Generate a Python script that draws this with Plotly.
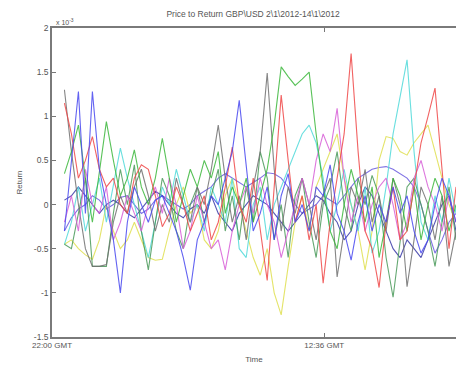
import numpy as np
import plotly.graph_objects as go

# time axis: minutes after 22:00 GMT
t_start = 40.0
t_step = 22.5
tick_vals = [0, 876]
tick_text = ["22:00 GMT", "12:36 GMT"]
y_tick_vals = [-1.5, -1, -0.5, 0, 0.5, 1, 1.5, 2]
y_tick_text = ["-1.5", "-1", "-0.5", "0", "0.5", "1", "1.5", "2"]

# returns in units of 1e-3
s_blue = [-0.30, 0.50, 1.28, -0.10, 1.28, 0.40, 0.00, -0.40, -1.00, -0.20,
          0.20, 0.00, -0.20, 0.05, 0.10, -0.10, -0.30, -0.60, -0.97, -0.40,
          -0.20, 0.10, 0.00, 0.30, 0.60, 1.18, 0.40, -0.30, -0.10, 0.20,
          -0.40, 0.10, 0.35, -0.20, 0.00, -0.30, 0.20, 0.10, 0.45, -0.10,
          -0.30, -0.63, -0.20, 0.10, -0.30, 0.00, -0.20, 0.20, -0.10, 0.10,
          -0.30, -0.55, -0.40, 0.00, 0.30, 0.10, -0.20]
s_red = [1.15, 0.80, 0.30, 0.50, 0.77, 0.40, 0.20, 0.30, 0.00, -0.10,
         0.30, 0.45, 0.40, 0.10, -0.25, -0.10, 0.20, 0.00, -0.30, -0.10,
         0.10, -0.40, -0.20, 0.20, 0.65, 0.00, -0.20, 0.30, -0.30, -0.86,
         0.20, 1.24, 0.50, -0.20, 0.10, -0.40, 0.00, -0.89, -0.20, 0.30,
         0.80, 1.71, 0.60, -0.30, -0.50, -0.94, -0.20, 0.20, -0.40, -0.30,
         0.20, 0.70, 1.00, 1.32, 0.40, -0.50, 0.20]
s_green = [0.35, 0.60, 0.90, 0.30, -0.20, 0.40, 0.94, 0.50, 0.10, 0.30,
           0.62, 0.20, 0.00, 0.30, 0.75, 0.30, -0.20, 0.10, 0.40, 0.20,
           0.50, 0.30, 0.60, -0.10, 0.20, 0.00, 0.30, -0.20, 0.10, 0.40,
           0.90, 1.56, 1.45, 1.35, 1.42, 1.50, 0.80, 0.20, -0.30, -0.50,
           0.00, 0.40, 0.10, -0.20, 0.20, -0.60, -0.20, 0.30, 0.10, -0.30,
           0.20, -0.40, 0.00, 0.30, 0.10, -0.30, 0.00]
s_dgreen = [-0.45, -0.50, -0.10, 0.30, -0.70, -0.70, -0.70, -0.10, 0.40, 0.00,
            0.45, -0.30, -0.74, -0.20, 0.30, 0.10, -0.30, -0.50, 0.00, 0.20,
            -0.20, 0.10, 0.40, -0.30, 0.10, -0.40, 0.20, -0.20, 0.60, 0.30,
            -0.40, 0.00, -0.60, 0.10, 0.30, -0.20, -0.60, 0.00, 0.20, 0.60,
            0.00, -0.30, 0.30, 0.00, 0.33, 0.10, -0.60, -1.05, -0.40, 0.20,
            0.30, 0.00, -0.30, -0.70, -0.20, 0.20, -0.40]
s_cyan = [-0.45, -0.20, 0.20, -0.30, 0.00, 0.30, -0.20, 0.20, 0.64, 0.30,
          0.00, -0.30, -0.60, -0.20, 0.20, 0.00, 0.40, 0.10, -0.20, 0.00,
          -0.30, 0.20, 0.00, -0.20, 0.30, -0.50, -0.60, 0.00, 0.20, -0.40,
          0.00, 0.20, 0.40, 0.60, 0.80, 0.90, 0.70, 0.30, -0.30, 0.00,
          0.40, 0.00, -0.30, 0.20, -0.55, -0.30, 0.20, 0.80, 1.20, 1.64,
          0.60, -0.20, -0.40, 0.10, -0.20, 0.30, -0.10]
s_magenta = [-0.20, 0.10, -0.30, 0.40, 0.00, -0.10, 0.20, -0.40, -0.20, 0.10,
             -0.10, -0.30, 0.00, 0.20, -0.10, 0.30, 0.00, -0.50, -0.30, 0.10,
             -0.20, -0.50, -0.40, -0.74, -0.30, 0.00, 0.20, -0.10, 0.30, 0.00,
             -0.20, -0.60, -0.30, 0.00, 0.30, 0.00, 0.50, 0.80, 0.60, 1.09,
             0.30, -0.20, 0.10, -0.30, 0.00, 0.20, 0.30, 0.00, -0.40, -0.20,
             0.30, 0.50, 0.20, 0.00, -0.30, 0.10, -0.20]
s_yellow = [-0.45, -0.40, -0.50, -0.57, -0.62, -0.40, 0.00, -0.30, -0.50, -0.40,
            -0.20, -0.40, -0.60, -0.63, -0.62, -0.30, 0.00, 0.20, -0.10, 0.00,
            -0.40, -0.50, -0.30, 0.10, 0.30, 0.00, -0.30, -0.60, -0.80, -0.50,
            -1.00, -1.25, -0.70, -0.20, 0.10, -0.30, 0.20, 0.40, 0.60, 0.80,
            0.30, 0.00, -0.30, -0.74, -0.30, 0.50, 0.77, 0.75, 0.60, 0.56,
            0.70, 0.80, 0.90, 0.60, 0.30, 0.00, -0.20]
s_gray = [1.30, 0.60, 0.00, -0.50, -0.70, -0.70, -0.68, -0.20, 0.10, -0.10,
          0.20, 0.40, 0.10, -0.30, 0.00, -0.20, 0.30, 0.00, -0.20, 0.20,
          0.00, 0.40, 0.90, 0.30, -0.20, 0.10, -0.40, 0.20, 0.60, 1.49,
          0.40, -0.30, 0.20, -0.10, 0.30, 0.00, -0.40, 0.10, 0.30, -0.82,
          -0.30, 0.20, 0.00, 0.40, -0.20, 0.10, -0.30, 0.30, 0.00, -0.93,
          -0.40, 0.20, 0.00, -0.40, 0.10, -0.70, -0.30]
s_purple = [-0.30, -0.15, -0.05, 0.00, 0.10, 0.05, -0.05, 0.00, 0.08, 0.10,
            0.00, -0.10, -0.05, 0.05, 0.10, 0.05, 0.00, -0.05, 0.00, 0.10,
            0.15, 0.20, 0.30, 0.35, 0.30, 0.25, 0.20, 0.25, 0.30, 0.36,
            0.35, 0.30, 0.20, 0.00, -0.10, -0.05, 0.00, 0.10, 0.05, 0.00,
            0.10, 0.20, 0.30, 0.35, 0.40, 0.42, 0.43, 0.40, 0.35, 0.30,
            0.20, 0.00, -0.30, -0.55, -0.40, -0.20, -0.10]
s_navy = [0.05, 0.10, 0.20, 0.10, 0.00, -0.10, 0.00, 0.05, 0.00, -0.10,
          -0.15, -0.05, 0.05, 0.15, 0.10, 0.00, -0.10, -0.15, -0.05, 0.00,
          -0.10, 0.10, -0.10, -0.20, -0.30, -0.10, 0.00, 0.10, 0.05, 0.00,
          -0.10, -0.20, -0.30, -0.20, -0.10, 0.00, 0.10, 0.05, -0.10, -0.20,
          -0.40, -0.30, 0.00, 0.20, 0.10, -0.10, -0.30, -0.50, -0.60, -0.40,
          -0.50, -0.60, -0.40, -0.20, 0.00, 0.10, -0.30]

series = [
    (s_purple, "#6a5ae0"),
    (s_navy, "#3a3aa8"),
    (s_yellow, "#e0e050"),
    (s_cyan, "#50dada"),
    (s_dgreen, "#4a9a5a"),
    (s_gray, "#707070"),
    (s_magenta, "#d860d8"),
    (s_green, "#3cb83c"),
    (s_red, "#f04848"),
    (s_blue, "#4848f0"),
]

fig = go.Figure()
for vals, col in series:
    x = t_start + t_step * np.arange(len(vals))
    fig.add_trace(go.Scatter(x=x, y=np.array(vals) * 1e-3, mode="lines",
                             line=dict(color=col, width=1.1), opacity=0.85,
                             showlegend=False, hoverinfo="skip"))

font = dict(family="Liberation Sans, Arial, sans-serif", size=8, color="#555555")
fig.update_layout(
    width=456, height=367,
    margin=dict(l=52, r=0, t=28, b=30),
    paper_bgcolor="white", plot_bgcolor="white",
    font=font,
    title=dict(text="Price to Return GBP\\USD 2\\1\\2012-14\\1\\2012",
               x=0.555, xanchor="center", y=0.962, yanchor="middle",
               font=dict(family="Liberation Sans, Arial, sans-serif", size=8.5, color="#555555")),
    xaxis=dict(range=[0, 1300], tickvals=tick_vals, ticktext=tick_text,
               ticks="inside", ticklen=4, tickcolor="#777777",
               showline=True, linecolor="#7a7a7a", linewidth=1.6, mirror="allticks",
               showgrid=False, zeroline=False,
               title=dict(text="Time", standoff=7, font=dict(size=8)),
               tickfont=dict(size=8)),
    yaxis=dict(range=[-1.5e-3, 2e-3], tickvals=[v * 1e-3 for v in y_tick_vals],
               ticktext=y_tick_text,
               ticks="inside", ticklen=4, tickcolor="#777777",
               showline=True, linecolor="#7a7a7a", linewidth=1.6, mirror=False,
               showgrid=False, zeroline=False,
               title=dict(text="Return", standoff=10, font=dict(size=8)),
               tickfont=dict(size=8.5)),
)
fig.add_annotation(text="x 10<sup>-3</sup>", xref="paper", yref="paper",
                   x=0.005, y=1.0, xanchor="left", yanchor="bottom",
                   showarrow=False, font=dict(size=7, color="#555555"))
fig.write_html("out.html")
